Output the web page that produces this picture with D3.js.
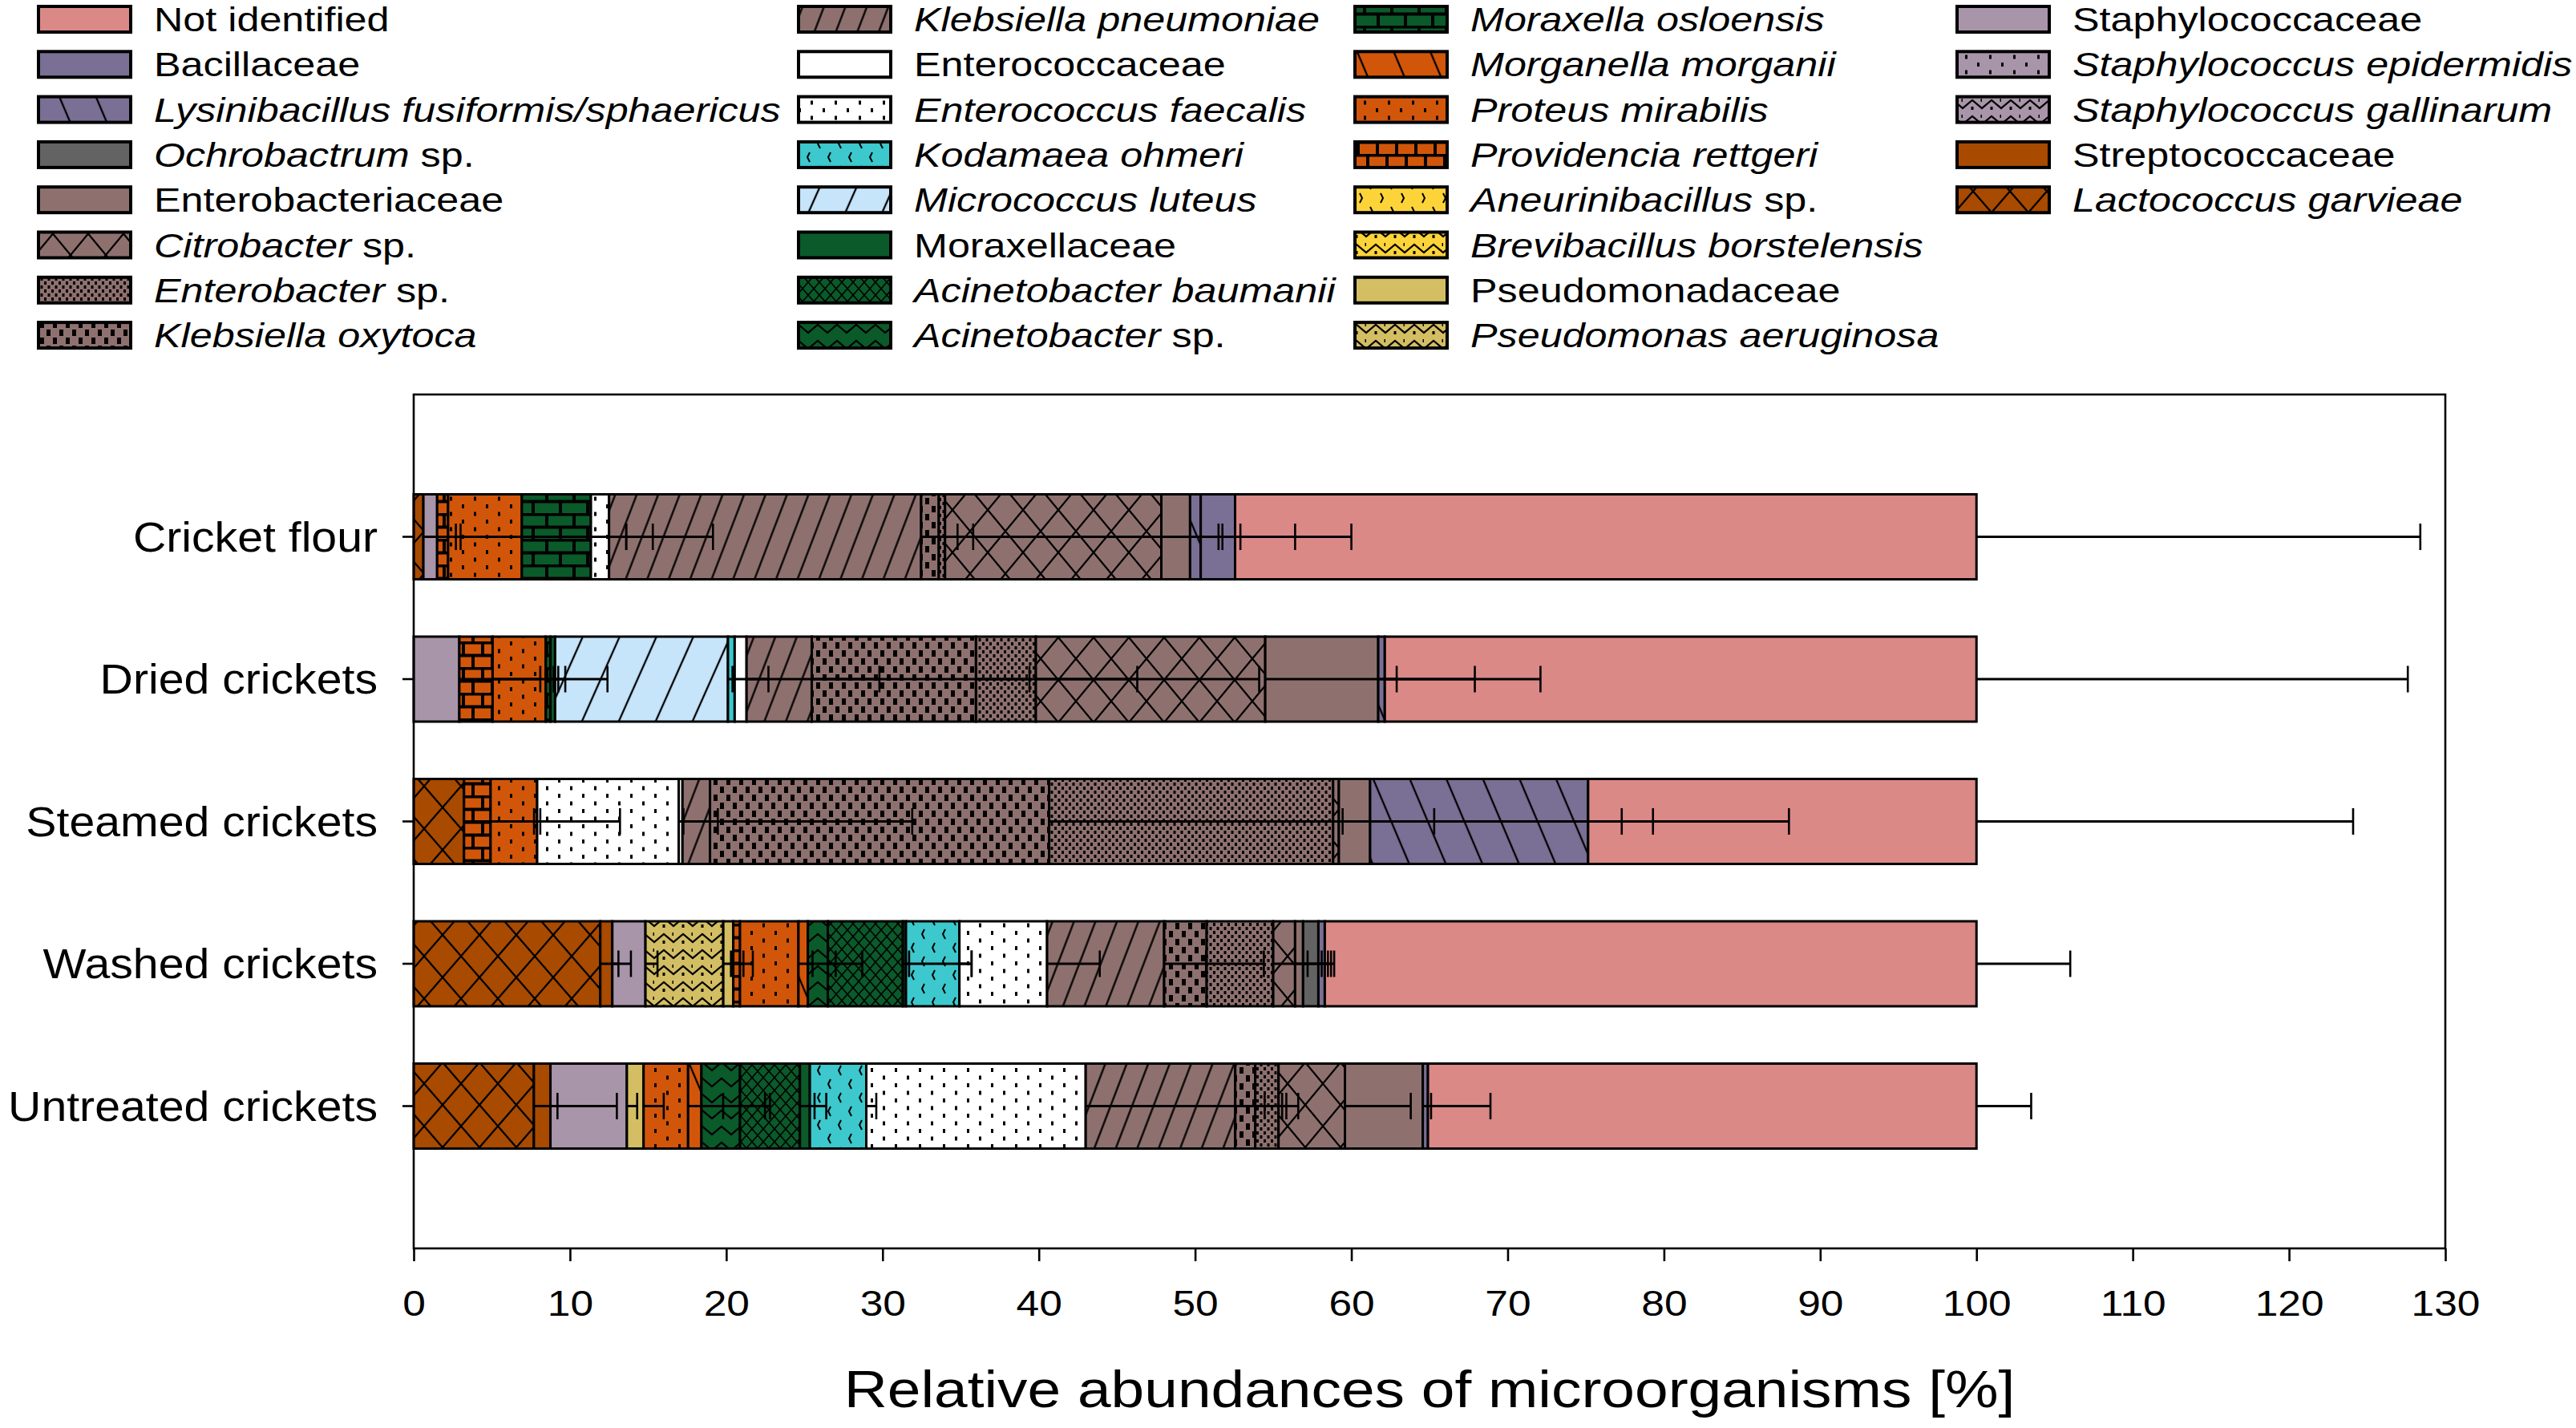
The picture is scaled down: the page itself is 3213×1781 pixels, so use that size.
<!DOCTYPE html>
<html><head><meta charset="utf-8">
<script src="https://cdn.jsdelivr.net/npm/d3@7"></script>
<style>
body{margin:0;background:#fff}
svg{display:block}
text{font-family:"Liberation Sans",Arial,sans-serif;fill:#000}
</style>
</head><body>
<svg id="c" width="3213" height="1781"></svg>
<script>
// ---------------- data ----------------
const categories = ["Cricket flour","Dried crickets","Steamed crickets","Washed crickets","Untreated crickets"];

// legend order (stacking goes in reverse order, left to right)
const taxa = [
  "Not identified","Bacillaceae","Lysinibacillus fusiformis/sphaericus","Ochrobactrum sp.",
  "Enterobacteriaceae","Citrobacter sp.","Enterobacter sp.","Klebsiella oxytoca",
  "Klebsiella pneumoniae","Enterococcaceae","Enterococcus faecalis","Kodamaea ohmeri",
  "Micrococcus luteus","Moraxellaceae","Acinetobacter baumanii","Acinetobacter sp.",
  "Moraxella osloensis","Morganella morganii","Proteus mirabilis","Providencia rettgeri",
  "Aneurinibacillus sp.","Brevibacillus borstelensis","Pseudomonadaceae","Pseudomonas aeruginosa",
  "Staphylococcaceae","Staphylococcus epidermidis","Staphylococcus gallinarum","Streptococcaceae",
  "Lactococcus garvieae"
];

// relative abundances [%] per category, in legend order
const valuesCricketFlour = [47.44,2.2,0.68,0,1.84,13.84,0.4,1.13,19.97,0,1.16,0,0,0,0,0,4.42,0,4.72,0.7,0,0,0,0,0.88,0,0,0,0.62];
const valuesDried        = [37.86,0,0.42,0,7.23,14.68,3.83,10.51,4.17,0.76,0,0.43,11.06,0.3,0,0,0.3,0,3.4,2.13,0,0,0,0,2.92,0,0,0,0];
const valuesSteamed      = [24.85,0,13.95,0,2.0,0.37,18.17,21.7,1.76,0.24,9.06,0,0,0,0,0,0,0,2.98,1.7,0,0,0,0,0,0,0,0,3.22];
const valuesWashed       = [41.7,0.41,0,0.98,0.51,1.4,4.26,2.72,7.49,0,5.61,3.42,0,0.2,4.8,1.28,0,0.6,3.74,0.43,0,0,0.64,4.98,2.12,0,0,0.77,11.94];
const valuesUntreated    = [35.1,0.33,0,0,4.98,4.25,1.49,1.28,9.57,0,14.04,3.61,0,0.64,3.83,2.47,0,0.85,2.85,0,0,0,1.07,0,4.89,0,0,1.06,7.69];

// standard deviations (drawn in the positive direction)
const sdCricketFlour = [28.4,0.34,1.39,0,1.82,12.16,1.8,1.2,23.93,0,1.1,0,0,0,0,0,7.81,0,8.38,11.4,0,0,0,0,1.5,0,0,0,2.08];
const sdDried        = [27.6,0,0.76,0,6.18,17.61,14.29,10.32,13.93,8.5,0,2.16,0.29,0.2,0,0,0.2,0,3.95,4.65,0,0,0,0,5.18,0,0,0,0];
const sdSteamed      = [24.1,0,12.85,0,18.1,0.24,6.47,36.64,0.5,14.7,0.3,0,0,0,0,0,0,0,0.2,8.28,0,0,0,0,0,0,0,0,4.48];
const sdWashed       = [6.0,0.2,0,1.01,1.79,1.7,2.2,3.66,2.68,0,3.37,0.78,0,4.2,0.4,0.5,0,0.3,4.08,0.82,0,0,0.65,0.49,0.77,0,0,1.19,1.16];
const sdUntreated    = [3.5,4.0,0,0,0.53,4.21,0.5,0.6,3.0,0,13.6,0.64,0,0.3,1.69,1.6,0,4.39,2.24,0,0,0,1.29,0,0.66,0,0,4.25,1.51];

const xTickValues = [0,10,20,30,40,50,60,70,80,90,100,110,120,130];
const xTitle = "Relative abundances of microorganisms [%]";

// ---------------- styles ----------------
const taxaColor = [
  "#DB8986","#7A6F94","#7A6F94","#636363",
  "#8E716F","#8E716F","#8E716F","#8E716F",
  "#8E716F","#FFFFFF","#FFFFFF","#3CC8CD",
  "#C6E4FA","#0A5A2A","#0A5A2A","#0A5A2A",
  "#0A5A2A","#D2560A","#D2560A","#D2560A",
  "#FCD43A","#FCD43A","#D3BE63","#D3BE63",
  "#A895A9","#A895A9","#A895A9","#A84A00",
  "#A84A00"
];
const taxaPattern = [
  "solid","solid","back","solid",
  "solid","diamond","fineDots","blocks",
  "slash","solid","dots","chevL",
  "slashWide","solid","fineDiamond","zigzag",
  "brick","back","dots","brickS",
  "chevR","zigzagDot","solid","zigzagDot",
  "solid","dots","zigzagDot","solid",
  "diamondL"
];

const catValues = [valuesCricketFlour,valuesDried,valuesSteamed,valuesWashed,valuesUntreated];
const catSD = [sdCricketFlour,sdDried,sdSteamed,sdWashed,sdUntreated];

const SX = 1.17;     // horizontal stretch of the original lettering
const SXcat = 1.1;
const svg = d3.select("#c");
const defs = svg.append("defs");

const x = d3.scaleLinear().domain([0,130]).range([516,3050]);
const y = d3.scalePoint().domain(categories).range([492,1557]).padding(1);
const barH = 106;

// ---------------- patterns ----------------
function makeFill(i){
  const kind = taxaPattern[i], bg = taxaColor[i];
  if(kind==="solid") return bg;
  const id = "pat"+i;
  const spec = {
    slash:[25,10,"rotate(21)"], slashWide:[42,10,"rotate(24)"], back:[42,10,"rotate(-23)"],
    diamond:[44,53,null], diamondL:[46,53,null], fineDiamond:[14,16,null],
    zigzag:[24,20,null], zigzagDot:[24,20,null], dots:[30,19,null], fineDots:[9,10,null],
    blocks:[16,20,null], chevL:[26,34,null], chevR:[26,34,null], brick:[34,32,null], brickS:[24,32,null]
  }[kind];
  const [w,h,tr] = spec;
  const p = defs.append("pattern").attr("id",id).attr("patternUnits","userSpaceOnUse")
    .attr("width",w).attr("height",h);
  if(tr) p.attr("patternTransform",tr);
  p.append("rect").attr("width",w).attr("height",h).attr("fill",bg);
  const ln = (d,sw)=>p.append("path").attr("d",d).attr("fill","none").attr("stroke","#000").attr("stroke-width",sw);
  const rc = (a,b,c,d)=>p.append("rect").attr("x",a).attr("y",b).attr("width",c).attr("height",d).attr("fill","#000");
  switch(kind){
    case "slash": case "slashWide": case "back":
      ln(`M${w/2},-5V${h+5}`,2.3); break;
    case "diamond": case "diamondL":
      ln(`M${-w},${-h}L${2*w},${2*h}M${2*w},${-h}L${-w},${2*h}`,2.3); break;
    case "fineDiamond":
      ln(`M${-w},${-h}L${2*w},${2*h}M${2*w},${-h}L${-w},${2*h}`,1.6); break;
    case "zigzag":
      ln(`M-12,5L0,15L12,5L24,15L36,5`,2.2); break;
    case "zigzagDot":
      ln(`M-12,5L0,15L12,5L24,15L36,5`,2.2); rc(10.5,13,3,4); rc(22.5,3,3,4); break;
    case "dots":
      rc(6,2,3,5); rc(21,11.5,3,5); break;
    case "fineDots":
      rc(1,1,3,4); rc(5.5,6,3,4); break;
    case "blocks":
      rc(2,1,5,8); rc(10,11,5,8); break;
    case "chevL":
      ln("M9,3L6,9L9,15",2); ln("M22,20L19,26L22,32",2); break;
    case "chevR":
      ln("M6,3L9,9L6,15",2); ln("M19,20L22,26L19,32",2); break;
    case "brick": case "brickS":
      ln(`M0,1.5H${w}M0,17.5H${w}M2,0V17.5M${w/2+2},17.5V32`,4); break;
  }
  return `url(#${id})`;
}
const taxaFill = taxa.map((t,i)=>makeFill(i));

// ---------------- legend ----------------
const legendColX = [48,996,1690,2441];
const legendRowY0 = 24, legendRowStep = 56.3;
taxa.forEach((name,i)=>{
  const col = Math.floor(i/8), row = i%8;
  const cx = legendColX[col], cy = legendRowY0 + row*legendRowStep;
  svg.append("rect").attr("x",cx).attr("y",cy-16).attr("width",115).attr("height",32)
    .attr("fill",taxaFill[i]).attr("stroke","#000").attr("stroke-width",4);
  const t = svg.append("text").attr("font-size",43)
    .attr("transform",`translate(${cx+144},${cy+15}) scale(${SX},1)`);
  const normal = name==="Not identified" || /aceae$/.test(name);
  if(normal){ t.text(name); }
  else if(/ sp\.$/.test(name)){
    t.append("tspan").attr("font-style","italic").text(name.replace(/ sp\.$/,""));
    t.append("tspan").text(" sp.");
  } else { t.append("tspan").attr("font-style","italic").text(name); }
});

// ---------------- bars ----------------
const order = d3.range(taxa.length).reverse();
const gBars = svg.append("g");
const errs = [];
categories.forEach((cat,ci)=>{
  let acc = 0;
  const yc = y(cat);
  order.forEach(i=>{
    const v = catValues[ci][i];
    if(v<=0) return;
    const x0 = acc, x1 = acc+v;
    gBars.append("rect").attr("x",x(x0)).attr("y",yc-barH/2)
      .attr("width",x(x1)-x(x0)).attr("height",barH)
      .attr("fill",taxaFill[i]).attr("stroke","#000").attr("stroke-width",3);
    const sd = catSD[ci][i];
    if(sd>0) errs.push({yc, a:x1, b:x1+sd});
    acc = x1;
  });
});
const gErr = svg.append("g").attr("stroke","#000");
errs.forEach(e=>{
  gErr.append("line").attr("x1",x(e.a)).attr("x2",x(e.b)).attr("y1",e.yc).attr("y2",e.yc).attr("stroke-width",3);
  gErr.append("line").attr("x1",x(e.b)).attr("x2",x(e.b)).attr("y1",e.yc-16.5).attr("y2",e.yc+16.5).attr("stroke-width",2.6);
});

// ---------------- axes / frame ----------------
svg.append("rect").attr("x",516).attr("y",492).attr("width",3050-516).attr("height",1557-492)
  .attr("fill","none").attr("stroke","#000").attr("stroke-width",2.6);

const ax = svg.append("g").attr("transform","translate(0,1557)")
  .call(d3.axisBottom(x).tickValues(xTickValues).tickSize(16).tickSizeOuter(0).tickPadding(37));
ax.select(".domain").remove();
ax.selectAll("line").attr("stroke","#000").attr("stroke-width",2.6);
ax.selectAll("text").attr("font-size",44).attr("font-family",'"Liberation Sans",Arial,sans-serif')
  .attr("fill","#000").attr("transform",`scale(${SX},1)`);

const gy = svg.append("g");
categories.forEach(cat=>{
  gy.append("line").attr("x1",502).attr("x2",516).attr("y1",y(cat)).attr("y2",y(cat))
    .attr("stroke","#000").attr("stroke-width",2.6);
  gy.append("text").attr("font-size",52).attr("text-anchor","end").attr("dy","0.35em")
    .attr("transform",`translate(471,${y(cat)}) scale(${SXcat},1)`).text(cat);
});

svg.append("text").attr("font-size",64).attr("text-anchor","middle")
  .attr("transform",`translate(${(516+3050)/2},1755) scale(${SX},1)`).text(xTitle);
</script>
</body></html>
